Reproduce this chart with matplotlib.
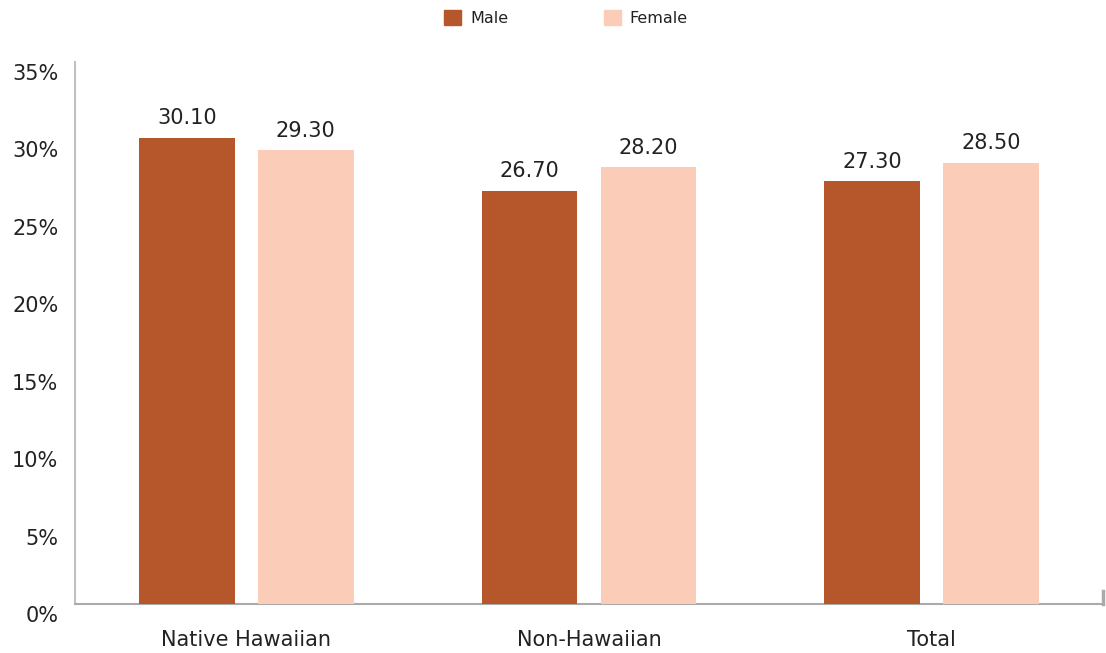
import matplotlib.pyplot as plt
import matplotlib.patches as mpatches
import matplotlib.transforms as mtransforms
import numpy as np

categories = ['Native Hawaiian', 'Non-Hawaiian', 'Total']
male = [30.10, 26.70, 27.30]
female = [29.30, 28.20, 28.50]
yticks = [0, 5, 10, 15, 20, 25, 30, 35]

male_color = '#B5572A'
female_color = '#FBCDB9'
axis_color = '#AAAAAA'
text_color = '#222222'

plt.rcParams['font.family'] = 'DejaVu Sans'

fig = plt.figure(figsize=(11.06, 6.53), dpi=100)
ax = fig.add_axes([75 / 1106, 49 / 653, 1028 / 1106, 542 / 653])

x = np.arange(len(categories))
w = 0.28
off = 0.1737
b1 = ax.bar(x - off, male, w, color=male_color, zorder=3)
b2 = ax.bar(x + off, female, w, color=female_color, zorder=3)
ax.bar_label(b1, fmt='%.2f', padding=7, fontsize=15, color=text_color)
ax.bar_label(b2, fmt='%.2f', padding=7, fontsize=15, color=text_color)

ax.set_xlim(-0.5, 2.5)
ax.set_ylim(0, 35)
ax.set_xticks(x)
ax.set_xticklabels(categories, fontsize=15, color=text_color)
ax.set_yticks(yticks)
ax.set_yticklabels([f'{t}%' for t in yticks], fontsize=15, color=text_color)
ax.tick_params(axis='both', length=0)
ax.tick_params(axis='x', pad=19)
ax.tick_params(axis='y', pad=12)

# y labels sit a little below their gridline positions in the original
shift = mtransforms.ScaledTranslation(0, -10 / 100, fig.dpi_scale_trans)
for lab in ax.get_yticklabels():
    lab.set_transform(lab.get_transform() + shift)

for s in ['top', 'right']:
    ax.spines[s].set_visible(False)
ax.spines['left'].set_color('#C0C0C0')
ax.spines['left'].set_linewidth(1.5)
ax.spines['bottom'].set_color(axis_color)
ax.spines['bottom'].set_linewidth(1.5)
ax.axvline(2.5, ymax=13 / 542, color=axis_color, lw=2.5, clip_on=False)

handles = [mpatches.Patch(color=male_color, label='Male'),
           mpatches.Patch(color=female_color, label='Female')]
fig.legend(handles=handles, loc='center', bbox_to_anchor=(566 / 1106, 1 - 18 / 653),
           ncol=2, frameon=False, fontsize=11.5, handlelength=1.05, handleheight=1.05,
           handletextpad=0.55, columnspacing=6.0, labelcolor=text_color)

fig.savefig('out.png', dpi=100)
